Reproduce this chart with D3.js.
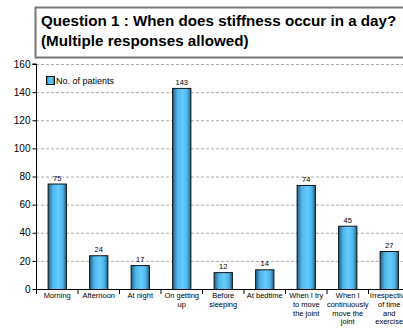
<!DOCTYPE html>
<html><head><meta charset="utf-8">
<script src="https://cdn.jsdelivr.net/npm/d3@7"></script>
<style>body{margin:0;background:#fff}svg{display:block;font-family:"Liberation Sans",Arial,sans-serif}text,tspan{fill:#000}</style>
</head><body><div id="c"></div>
<script>
const categories = [["Morning"],["Afternoon"],["At night"],["On getting","up"],["Before","sleeping"],["At bedtime"],["When I try","to move","the joint"],["When I","continuously","move the","joint"],["Irrespective","of time","and","exercise"]];
const values = [75,24,17,143,12,14,74,45,27];
const yTicks = [0,20,40,60,80,100,120,140,160];
const seriesName = "No. of patients";
const titleLines = ["Question 1 : When does stiffness occur in a day?","(Multiple responses allowed)"];

(function(){
const W=403,H=332;
const svg=d3.select("#c").append("svg").attr("width",W).attr("height",H);
const defs=svg.append("defs");
const g=defs.append("linearGradient").attr("id","bg").attr("x1","0").attr("x2","1").attr("y1","0").attr("y2","0");
g.append("stop").attr("offset","0").attr("stop-color","#1f5f8a");
g.append("stop").attr("offset","0.25").attr("stop-color","#4fb4e6");
g.append("stop").attr("offset","0.55").attr("stop-color","#66ccff");
g.append("stop").attr("offset","0.8").attr("stop-color","#4fb4e6");
g.append("stop").attr("offset","1").attr("stop-color","#1f5f8a");

const pl=36, pr=36+9*41.5, pt=64, pb=289;
const x=d3.scaleBand().domain(d3.range(categories.length)).range([pl,pr]).paddingInner(0.56).paddingOuter(0.28);
const y=d3.scaleLinear().domain([0,160]).range([pb,pt]);

svg.append("g").selectAll("line").data(yTicks.filter(d=>d>0)).join("line")
 .attr("x1",pl).attr("x2",pr).attr("y1",d=>y(d)+0.5).attr("y2",d=>y(d)+0.5)
 .attr("stroke","#aaa").attr("stroke-dasharray","3,2").attr("stroke-width",1);

svg.append("rect").attr("x",35.5).attr("y",7.5).attr("width",400).attr("height",50)
 .attr("fill","#fff").attr("stroke","#777").attr("stroke-width",2);
svg.append("g").selectAll("text").data(titleLines).join("text")
 .attr("x",41).attr("y",(d,i)=>26+i*20).attr("font-size",15.2).attr("font-weight","bold").text(d=>d);

const ya=svg.append("g").attr("transform",`translate(${pl+0.5},0)`).call(d3.axisLeft(y).tickValues(yTicks).tickSize(4).tickPadding(2));
ya.select(".domain").attr("stroke","#000").attr("d",`M-4,${pt}H0V${pb}`);
ya.selectAll("text").attr("font-size",10).attr("font-family","Liberation Sans, Arial").attr("fill","#000");

svg.append("g").selectAll("rect").data(values).join("rect")
 .attr("x",(d,i)=>x(i)+0.5).attr("width",x.bandwidth()).attr("y",d=>y(d)+0.5).attr("height",d=>pb-y(d))
 .attr("fill","url(#bg)").attr("stroke","#111").attr("stroke-width",1);
svg.append("g").selectAll("text").data(values).join("text")
 .attr("x",(d,i)=>x(i)+x.bandwidth()/2+0.5).attr("y",d=>y(d)-3).attr("text-anchor","middle")
 .attr("font-size",7.5).text(d=>d);

svg.append("line").attr("x1",pl).attr("x2",pr).attr("y1",pb+0.5).attr("y2",pb+0.5).attr("stroke","#000");
const step=x.step();
svg.append("g").selectAll("line").data(d3.range(categories.length+1)).join("line")
 .attr("x1",i=>pl+i*step+0.5).attr("x2",i=>pl+i*step+0.5).attr("y1",pb).attr("y2",pb+5).attr("stroke","#000");
const lab=svg.append("g").selectAll("text").data(categories).join("text")
 .attr("x",(d,i)=>x(i)+x.bandwidth()/2+0.5).attr("y",298).attr("text-anchor","middle").attr("font-size",7.5);
lab.selectAll("tspan").data(d=>d).join("tspan").attr("x",function(){return this.parentNode.getAttribute("x")}).attr("dy",(d,i)=>i?8.8:0).text(d=>d);

svg.append("rect").attr("x",46.5).attr("y",76.5).attr("width",8).attr("height",8).attr("fill","url(#bg)").attr("stroke","#111");
svg.append("text").attr("x",56).attr("y",84).attr("font-size",9).text(seriesName);
})();
</script></body></html>
